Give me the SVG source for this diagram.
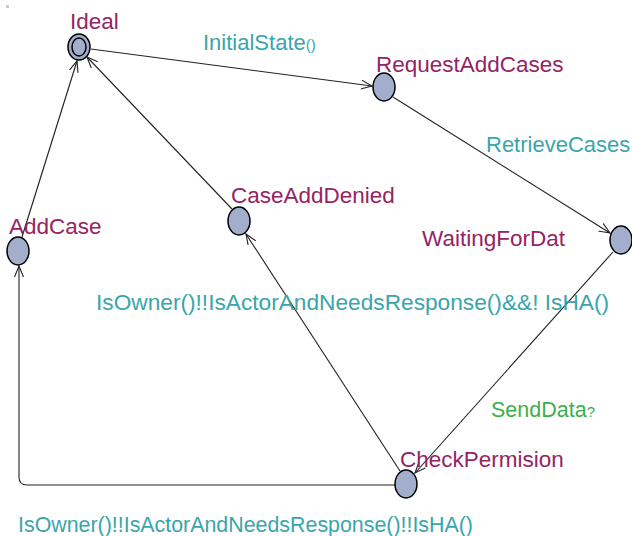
<svg xmlns="http://www.w3.org/2000/svg" width="632" height="536" viewBox="0 0 632 536">
  <style>
    .loc { fill: #a3adcc; stroke: #000; stroke-width: 1.5; }
    .name { font-family: "Liberation Sans", Arial, sans-serif; font-size: 22.5px; fill: #952462; }
    .guard { font-family: "Liberation Sans", Arial, sans-serif; font-size: 22px; fill: #3aa5ab; }
    .sync { font-family: "Liberation Sans", Arial, sans-serif; font-size: 21.5px; fill: #3cb04a; }
    .small { font-size: 15px; }
    .edge { fill: none; stroke: #222; stroke-width: 1.1; }
  </style>
  <defs>
    <marker id="arrow" viewBox="0 0 12 10" refX="11" refY="5" markerWidth="12" markerHeight="10" markerUnits="userSpaceOnUse" orient="auto">
      <path d="M0,0.5 L11,5 L0,9.5" fill="none" stroke="#222" stroke-width="1.1"/>
    </marker>
  </defs>

  <rect width="632" height="536" fill="#fff"/>
  <rect x="6" y="5" width="3" height="3" fill="#ccc"/>

  <g id="connectors">
    <line class="edge" x1="91" y1="49" x2="372" y2="86" marker-end="url(#arrow)"/>
    <line class="edge" x1="393" y1="97" x2="610" y2="233" marker-end="url(#arrow)"/>
    <line class="edge" x1="613" y1="252" x2="415" y2="473" marker-end="url(#arrow)"/>
    <line class="edge" x1="400" y1="471" x2="246" y2="234" marker-end="url(#arrow)"/>
    <line class="edge" x1="232" y1="209" x2="87" y2="57" marker-end="url(#arrow)"/>
    <line class="edge" x1="22" y1="237" x2="77" y2="61" marker-end="url(#arrow)"/>
    <path class="edge" d="M395,485 H27 Q19,485 19,477 V266" marker-end="url(#arrow)"/>
  </g>

  <g id="Ideal">
    <ellipse class="loc" cx="79" cy="47" rx="11" ry="13"/>
    <ellipse class="loc" cx="79" cy="47" rx="7" ry="9"/>
    <text class="name" x="70" y="29">Ideal</text>
  </g>
  <g id="RequestAddCases">
    <ellipse class="loc" cx="384" cy="87" rx="11" ry="14"/>
    <text class="name" x="376" y="72">RequestAddCases</text>
  </g>
  <g id="WaitingForDat">
    <ellipse class="loc" cx="621" cy="240" rx="11" ry="14"/>
    <text class="name" x="422" y="246">WaitingForDat</text>
  </g>
  <g id="CheckPermision">
    <ellipse class="loc" cx="406" cy="484" rx="11" ry="14"/>
    <text class="name" x="400" y="467">CheckPermision</text>
  </g>
  <g id="CaseAddDenied">
    <ellipse class="loc" cx="239" cy="221" rx="11" ry="14"/>
    <text class="name" x="231" y="203">CaseAddDenied</text>
  </g>
  <g id="AddCase">
    <ellipse class="loc" cx="18" cy="251" rx="11" ry="14"/>
    <text class="name" x="9" y="234">AddCase</text>
  </g>

  <g id="labels">
    <text class="guard" x="203" y="50">InitialState<tspan class="small">()</tspan></text>
    <text class="guard" x="486" y="152">RetrieveCases</text>
    <text class="guard" x="96" y="310" textLength="513" lengthAdjust="spacingAndGlyphs">IsOwner()!!IsActorAndNeedsResponse()&amp;&amp;! IsHA()</text>
    <text class="sync" x="491" y="417">SendData<tspan class="small">?</tspan></text>
    <text class="guard" x="18" y="532" textLength="455" lengthAdjust="spacingAndGlyphs">IsOwner()!!IsActorAndNeedsResponse()!!IsHA()</text>
  </g>
</svg>
